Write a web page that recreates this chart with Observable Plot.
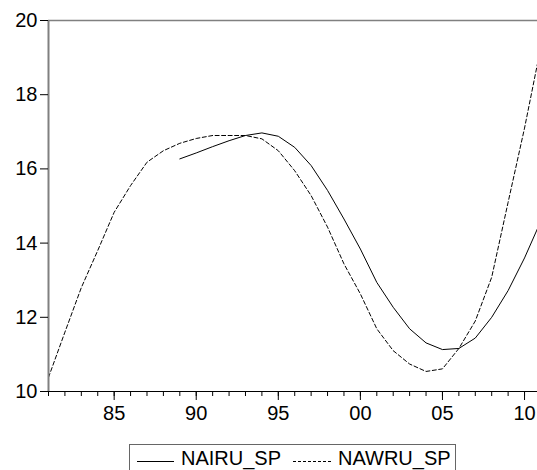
<!DOCTYPE html>
<html>
<head>
<meta charset="utf-8">
<script src="https://cdn.jsdelivr.net/npm/d3@7"></script>
<script src="https://cdn.jsdelivr.net/npm/@observablehq/plot@0.6"></script>
<style>
  body { margin: 0; background: #fff; font-family: Arial, "Liberation Sans", sans-serif; }
  #wrap { position: relative; width: 537px; height: 470px; overflow: hidden; }
  #legend { position: absolute; left: 129px; top: 444px; width: 327px; height: 34px; border: 1px solid #666; box-sizing: border-box; font-size: 20px; color: #000; }
  #legend .item { position: absolute; top: 2px; white-space: nowrap; line-height: 22px; }
  #legend .sample { position: absolute; top: 16px; width: 37px; height: 0; }
</style>
</head>
<body>
<div id="wrap">
  <div id="chart"></div>
  <div id="legend">
    <span class="sample" style="left:7px;border-top:1px solid #000;"></span>
    <span class="item" style="left:51px;">NAIRU_SP</span>
    <svg class="sample" style="left:163px;top:16px;height:2px;overflow:visible" width="40" height="2"><line x1="0" y1="0.5" x2="38" y2="0.5" stroke="#000" stroke-width="1" stroke-dasharray="3,2"/></svg>
    <span class="item" style="left:208px;">NAWRU_SP</span>
  </div>
</div>
<script>
const years = d3.range(1981, 2012);
const nawru = [10.38, 11.6, 12.8, 13.8, 14.83, 15.55, 16.18, 16.49, 16.69, 16.82,
               16.9, 16.9, 16.9, 16.81, 16.49, 15.95, 15.28, 14.43, 13.44, 12.63,
               11.69, 11.1, 10.74, 10.54, 10.61, 11.16, 11.9, 13.08, 15.1, 17.1, 19.3];
const nairuYears = d3.range(1989, 2012);
const nairu = [16.27, 16.43, 16.6, 16.76, 16.9, 16.97, 16.88, 16.58, 16.09, 15.42,
               14.65, 13.84, 12.94, 12.27, 11.69, 11.31, 11.13, 11.16, 11.44, 12.0,
               12.72, 13.6, 14.6];
const yTicks = [10, 12, 14, 16, 18, 20];
const xMajor = [1985, 1990, 1995, 2000, 2005, 2010];
const xMinor = d3.range(1981, 2011);

const nawruData = years.map((y, i) => ({year: y, v: nawru[i]}));
const nairuData = nairuYears.map((y, i) => ({year: y, v: nairu[i]}));

const chart = Plot.plot({
  width: 537,
  height: 430,
  marginTop: 20,
  marginBottom: 39,
  marginLeft: 48,
  marginRight: 0,
  style: {fontFamily: "Arial, 'Liberation Sans', sans-serif", fontSize: "20px", color: "#000", background: "#fff"},
  x: {domain: [1981, 2010.79]},
  y: {domain: [10, 20]},
  marks: [
    Plot.line(nairuData, {x: "year", y: "v", stroke: "#000", strokeWidth: 1, clip: true}),
    Plot.line(nawruData, {x: "year", y: "v", stroke: "#000", strokeWidth: 1, strokeDasharray: "4,2.5", clip: true}),
    Plot.ruleY([20], {stroke: "#808080", strokeWidth: 1.5}),
    Plot.ruleX([1981], {stroke: "#808080", strokeWidth: 2}),
    Plot.ruleY([10], {stroke: "#000", strokeWidth: 1}),
    Plot.axisX(xMinor, {tickSize: 5, tickFormat: () => "", label: null, stroke: "#000", strokeOpacity: 1}),
    Plot.axisX(xMajor, {tickSize: 9, tickPadding: 5, tickFormat: d => String(d % 100).padStart(2, "0"), label: null, fontSize: 20, stroke: "#000", strokeOpacity: 1}),
    Plot.axisY(yTicks, {tickSize: 8, tickPadding: 3, label: null, fontSize: 20, stroke: "#000", strokeOpacity: 1})
  ]
});
document.getElementById("chart").appendChild(chart);
</script>
</body>
</html>
